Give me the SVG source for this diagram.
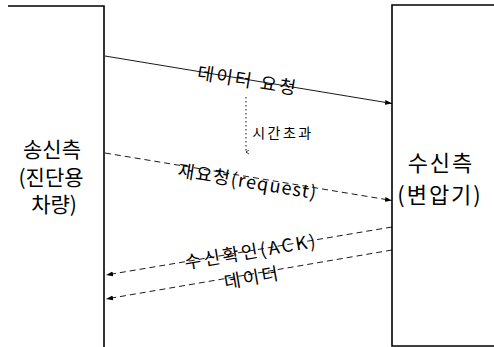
<svg xmlns="http://www.w3.org/2000/svg" width="494" height="347" viewBox="0 0 494 347">
<style>
.frame{fill:none;stroke:#000;stroke-width:1.6}
.msg{fill:none;stroke:#000;stroke-width:0.9}
.dash{stroke-dasharray:6,4}
.dot{stroke-dasharray:1.5,2.5}
text{font-family:"Noto Sans CJK KR","Noto Sans",sans-serif;fill:#000;text-anchor:middle;dominant-baseline:central}
.big{font-size:21px}
.bigr{font-size:22px;letter-spacing:2px}
.lbl{font-size:18px;letter-spacing:2.5px}
.req{font-size:18px;letter-spacing:1.3px}
.sm{font-size:14px;letter-spacing:2.5px}
</style>
<defs>
<marker id="ah" viewBox="0 0 10 10" refX="10" refY="5" markerWidth="7" markerHeight="7" markerUnits="userSpaceOnUse" orient="auto">
<path d="M0,1.5 L10,5 L0,8.5 Z" fill="#000"/>
</marker>
<marker id="av" viewBox="0 0 10 10" refX="5" refY="8" markerWidth="5" markerHeight="5" markerUnits="userSpaceOnUse" orient="auto">
<path d="M1,2 L5,8 L9,2" fill="none" stroke="#000" stroke-width="1.5"/>
</marker>
</defs>
<g id="sender">
<path class="frame" d="M8,6 H104 V347"/>
<text class="big" x="52" y="148">송신측</text>
<text class="big" x="51" y="176">(진단용</text>
<text class="big" x="54" y="203">차량)</text>
</g>
<g id="receiver">
<path class="frame" d="M494,5 H392 V346 H494"/>
<text class="bigr" x="441" y="161">수신측</text>
<text class="bigr" x="440" y="193">(변압기)</text>
</g>
<g id="connectors">
<line class="msg" x1="105" y1="56" x2="392" y2="103.5" marker-end="url(#ah)"/>
<line class="msg dot" x1="246" y1="97" x2="246" y2="152" marker-end="url(#av)"/>
<line class="msg dash" x1="105" y1="153" x2="392" y2="200.5" marker-end="url(#ah)"/>
<line class="msg dash" x1="392" y1="227" x2="106" y2="275" marker-end="url(#ah)"/>
<line class="msg dash" x1="392" y1="250" x2="106" y2="299" marker-end="url(#ah)"/>
</g>
<g id="labels">
<text class="lbl" transform="translate(248,79) rotate(9.3)">데이터 요청</text>
<text class="sm" x="283" y="132">시간초과</text>
<text class="req" transform="translate(248,180) rotate(9.3)">재요청(request)</text>
<text class="lbl" transform="translate(251,250) rotate(-9.5)">수신확인(ACK)</text>
<text class="lbl" transform="translate(252,276) rotate(-9.8)">데이터</text>
</g>
</svg>
